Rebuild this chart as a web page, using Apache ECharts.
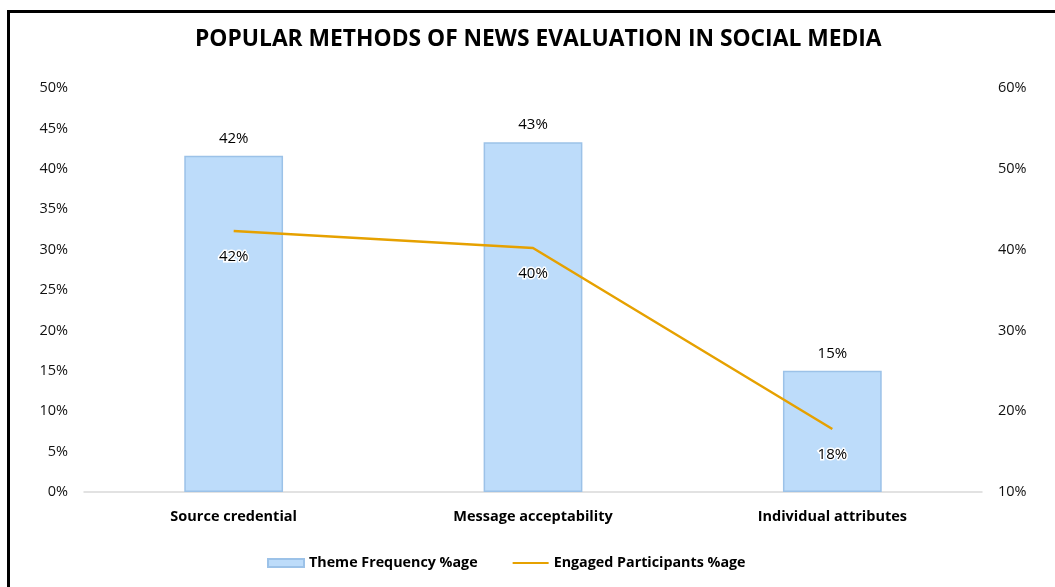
<!DOCTYPE html>
<html><head><meta charset="utf-8">
<script src="https://cdn.jsdelivr.net/npm/echarts@6/dist/echarts.min.js"></script>
<style>
html,body{margin:0;padding:0;background:#fff;}
#frame{position:absolute;left:7px;top:10px;width:1100px;height:640px;border-left:3px solid #000;border-top:3px solid #000;}
#chart{position:absolute;left:0;top:0;width:1055px;height:587px;}
</style></head>
<body>
<div id="frame"></div>
<div id="chart"></div>
<script>
const categories = ['Source credential', 'Message acceptability', 'Individual attributes'];
const themeFrequency = [41.6, 43.3, 15.0];
const engagedParticipants = [42.3, 40.2, 17.8];
const themeLabels = ['42%', '43%', '15%'];
const engagedLabels = ['42%', '40%', '18%'];

const FONT = '"Open Sans", "Noto Sans", sans-serif';
const chart = echarts.init(document.getElementById('chart'));
chart.setOption({
  animation: false,
  backgroundColor: 'transparent',
  title: {
    text: 'POPULAR METHODS OF NEWS EVALUATION IN SOCIAL MEDIA',
    left: 190, top: 23,
    textStyle: {fontFamily: FONT, fontSize: 22.8, fontWeight: 'bold', color: '#000'}
  },
  grid: {left: 84, right: 73, top: 88, bottom: 95, containLabel: false},
  legend: {
    bottom: 12, left: 262, itemGap: 34, itemWidth: 36, itemHeight: 8,
    textStyle: {fontFamily: FONT, fontSize: 14.3, fontWeight: 'bold', color: '#000'},
    data: [
      {name: 'Theme Frequency %age', icon: 'rect'},
      {name: 'Engaged Participants %age', itemStyle: {opacity: 0}}
    ]
  },
  xAxis: {
    type: 'category', data: categories,
    axisLine: {lineStyle: {color: '#d9d9d9', width: 1.5}},
    axisTick: {show: false},
    axisLabel: {fontFamily: FONT, fontSize: 14.5, fontWeight: 'bold', color: '#000', margin: 17}
  },
  yAxis: [
    {type: 'value', min: 0, max: 50, interval: 5,
     axisLabel: {formatter: '{value}%', fontFamily: FONT, fontSize: 14.5, color: '#111', margin: 16},
     splitLine: {show: false}, axisLine: {show: false}, axisTick: {show: false}},
    {type: 'value', min: 10, max: 60, interval: 10,
     axisLabel: {formatter: '{value}%', fontFamily: FONT, fontSize: 14.5, color: '#111', margin: 16},
     splitLine: {show: false}, axisLine: {show: false}, axisTick: {show: false}}
  ],
  series: [
    {
      name: 'Theme Frequency %age', type: 'bar', yAxisIndex: 0,
      data: themeFrequency, barWidth: '33%',
      itemStyle: {color: '#bddcfa', borderColor: '#9cc2e8', borderWidth: 1.5},
      label: {show: true, position: 'top', distance: 10,
        formatter: p => themeLabels[p.dataIndex],
        fontFamily: FONT, fontSize: 15, color: '#000'}
    },
    {
      name: 'Engaged Participants %age', type: 'line', yAxisIndex: 1,
      data: engagedParticipants, symbol: 'circle', symbolSize: 0.01, showSymbol: true,
      lineStyle: {color: '#e6a100', width: 2.5},
      itemStyle: {color: '#e6a100'},
      label: {show: true, position: 'bottom', distance: 18,
        formatter: p => engagedLabels[p.dataIndex],
        fontFamily: FONT, fontSize: 15, color: '#000',
        textBorderColor: '#fff', textBorderWidth: 3}
    }
  ]
});
</script>
</body></html>
